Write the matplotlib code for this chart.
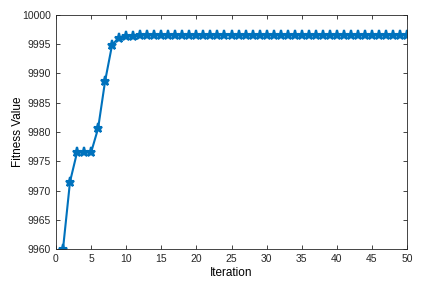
import numpy as np
import matplotlib
matplotlib.use('Agg')
from matplotlib import pyplot as plt

plt.rcParams['font.family'] = ['Liberation Sans', 'DejaVu Sans']

iterations = np.arange(1, 51)
fitness = [9960.0, 9971.5, 9976.5, 9976.5, 9976.5, 9980.6, 9988.7, 9994.9,
           9996.1, 9996.3, 9996.3] + [9996.5] * 39

fig = plt.figure(figsize=(4.24, 2.89), dpi=100)
ax = fig.add_axes([0.132, 0.138, 0.828, 0.811])
ax.plot(iterations, fitness, color='#0072BD', linewidth=1.5,
        marker='*', markersize=6.5, markeredgewidth=1.5)

ax.set_xlim(0, 50)
ax.set_ylim(9960, 10000)
ax.set_xticks(np.arange(0, 51, 5))
ax.set_yticks(np.arange(9960, 10001, 5))
ax.tick_params(direction='in', top=True, right=True, labelsize=7.5,
               length=3, width=0.6, colors='#262626')
for s in ax.spines.values():
    s.set_linewidth(0.6)
    s.set_color('#262626')
ax.set_xlabel('Iteration', fontsize=8.5, labelpad=2)
ax.set_ylabel('Fitness Value', fontsize=8.5)
ax.yaxis.set_label_coords(-0.091, 0.5)

fig.savefig('out.png', dpi=100)
